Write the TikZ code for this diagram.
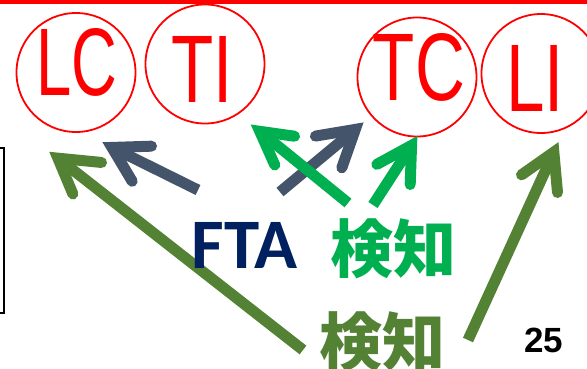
\documentclass[tikz,border=0pt]{standalone}
\usepackage{fontspec}
\setmainfont{Liberation Sans}
\newfontfamily\carlito{Carlito}
\newfontfamily\cjk{Noto Sans CJK JP}
\usetikzlibrary{calc}
\definecolor{olivegr}{HTML}{548235}
\definecolor{slate}{HTML}{44546A}
\definecolor{brightgr}{HTML}{00B050}
\definecolor{navy}{HTML}{002060}
\tikzset{
  ring/.style={circle, draw=red, line width=1.8pt, minimum size=119pt, inner sep=0pt},
  ringtext/.style={text=red, inner sep=0pt, font=\fontsize{96}{96}\selectfont},
  shaft/.style={line width=11pt, line cap=butt},
  head/.style={line width=11pt, line cap=round, line join=miter},
}
\begin{document}
\begin{tikzpicture}[x=1pt, y=1pt]
\useasboundingbox (0,0) rectangle (587,-368);
\clip (0,0) rectangle (587,-368);
\fill[white] (0,0) rectangle (587,-368);
% top red bar
\fill[red] (0,0) rectangle (587,-4);
% left box fragment
\draw[black, line width=1.2pt] (-10,-148) rectangle (4,-313);
% circles
\node[ring] (lc) at (76,-72.5) {};
\node[ring] (ti) at (205,-64) {};
\node[ring] (tc) at (417,-77) {};
\node[ring] (li) at (541,-73.5) {};
\node[ringtext] (lct) at (76.5,-62) {\scalebox{0.66}[1]{LC}};
\node[ringtext] (tit) at (202,-69) {\scalebox{0.72}[1]{TI}};
\node[ringtext] (tct) at (419,-67.5) {\scalebox{0.72}[1]{TC}};
\node[ringtext] (lit) at (535,-78) {\scalebox{0.72}[1]{LI}};
% arrow coordinates
\coordinate (a1s) at (303,-350); \coordinate (a1e) at (50,-152);
\coordinate (a1p) at (107,-163); \coordinate (a1q) at (75,-199);
\coordinate (a2s) at (198,-190); \coordinate (a2e) at (103,-143);
\coordinate (a2p) at (157,-146); \coordinate (a2q) at (135,-186);
\coordinate (a3s) at (280,-192); \coordinate (a3e) at (363,-123);
\coordinate (a3p) at (310,-137); \coordinate (a3q) at (340,-173);
\coordinate (a4s) at (348,-203); \coordinate (a4e) at (252,-125);
\coordinate (a4p) at (300,-137); \coordinate (a4q) at (277,-170);
\coordinate (a5s) at (373,-205); \coordinate (a5e) at (417,-137);
\coordinate (a5p) at (372,-167); \coordinate (a5q) at (410,-190);
\coordinate (a6s) at (468,-340); \coordinate (a6e) at (558,-143);
\coordinate (a6p) at (517,-178); \coordinate (a6q) at (558,-198);
% arrows
\coordinate (a1s-c) at ($(a1e)!10pt!(a1s)$);
\draw[shaft, olivegr] (a1s) -- (a1s-c);
\draw[head, olivegr] ($(a1p)!5.5pt!(a1s-c)$) -- (a1s-c) -- ($(a1q)!5.5pt!(a1s-c)$);
\coordinate (a2s-c) at ($(a2e)!10pt!(a2s)$);
\draw[shaft, slate] (a2s) -- (a2s-c);
\draw[head, slate] ($(a2p)!5.5pt!(a2s-c)$) -- (a2s-c) -- ($(a2q)!5.5pt!(a2s-c)$);
\coordinate (a3s-c) at ($(a3e)!10pt!(a3s)$);
\draw[shaft, slate] (a3s) -- (a3s-c);
\draw[head, slate] ($(a3p)!5.5pt!(a3s-c)$) -- (a3s-c) -- ($(a3q)!5.5pt!(a3s-c)$);
\coordinate (a4s-c) at ($(a4e)!10pt!(a4s)$);
\draw[shaft, brightgr] (a4s) -- (a4s-c);
\draw[head, brightgr] ($(a4p)!5.5pt!(a4s-c)$) -- (a4s-c) -- ($(a4q)!5.5pt!(a4s-c)$);
\coordinate (a5s-c) at ($(a5e)!10pt!(a5s)$);
\draw[shaft, brightgr] (a5s) -- (a5s-c);
\draw[head, brightgr] ($(a5p)!5.5pt!(a5s-c)$) -- (a5s-c) -- ($(a5q)!5.5pt!(a5s-c)$);
\coordinate (a6s-c) at ($(a6e)!10pt!(a6s)$);
\draw[shaft, olivegr] (a6s) -- (a6s-c);
\draw[head, olivegr] ($(a6p)!5.5pt!(a6s-c)$) -- (a6s-c) -- ($(a6q)!5.5pt!(a6s-c)$);
% texts
\node[text=navy, inner sep=0pt, font=\carlito\bfseries\fontsize{71}{71}\selectfont] (fta) at (244.5,-245) {FTA};
\node[text=brightgr, inner sep=0pt, font=\cjk\bfseries\fontsize{63}{63}\selectfont] (kg) at (393.5,-249) {検知};
\node[text=olivegr, inner sep=0pt, font=\cjk\bfseries\fontsize{63}{63}\selectfont] (ko) at (382.5,-342) {検知};
\node[text=black, inner sep=0pt, font=\bfseries\fontsize{35}{35}\selectfont] (pg) at (543.5,-340.5) {25};
\end{tikzpicture}
\end{document}
